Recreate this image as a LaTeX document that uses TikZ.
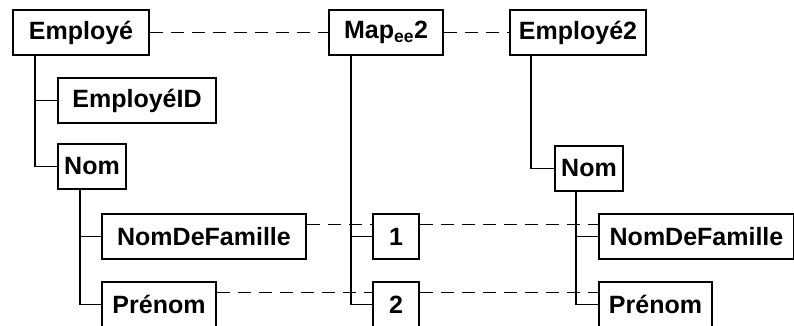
\documentclass[tikz,border=0pt]{standalone}
\usepackage{fontspec}
\setmainfont{Liberation Sans}
\tikzset{
  elem/.style={draw, line width=2pt, minimum height=45pt, inner sep=0pt,
    anchor=north west, font=\fontsize{25}{29}\selectfont\bfseries},
  tree/.style={line width=1.8pt},
  link/.style={line width=1.8pt, dash pattern=on 13pt off 8pt},
}
\begin{document}
\begin{tikzpicture}[x=1pt, y=-1pt]
  \useasboundingbox (0,0) rectangle (794,326);

  % ---- left: source schema ----
  \node[elem, minimum width=136pt] (emp) at (12,9) {Employé};
  \node[elem, minimum width=158pt] (empid) at (57,77) {EmployéID};
  \node[elem, minimum width=68pt] (nom) at (57,143) {Nom};
  \node[elem, minimum width=204pt] (ndf) at (101,213) {NomDeFamille};
  \node[elem, minimum width=114pt] (pre) at (101,281) {Prénom};
  \draw[tree] ([xshift=23pt]emp.south west) |- (empid.west);
  \draw[tree] ([xshift=23pt]emp.south west) |- (nom.west);
  \draw[tree] ([xshift=23pt]nom.south west) |- (ndf.west);
  \draw[tree] ([xshift=23pt]nom.south west) |- (pre.west);

  % ---- middle: map ----
  \node[elem, minimum width=114pt] (map) at (328,9) {Map\textsubscript{ee}2};
  \node[elem, minimum width=46pt] (one) at (372,213) {1};
  \node[elem, minimum width=46pt] (two) at (372,281) {2};
  \draw[tree] ([xshift=23pt]map.south west) |- (one.west);
  \draw[tree] ([xshift=23pt]map.south west) |- (two.west);

  % ---- right: target schema ----
  \node[elem, minimum width=136pt] (emp2) at (509,9) {Employé2};
  \node[elem, minimum width=68pt] (nom2) at (554,145) {Nom};
  \node[elem, minimum width=195pt] (ndf2) at (598,213) {NomDeFamille};
  \node[elem, minimum width=113pt] (pre2) at (598,281) {Prénom};
  \draw[tree] ([xshift=22pt]emp2.south west) |- (nom2.west);
  \draw[tree] ([xshift=22pt]nom2.south west) |- (ndf2.west);
  \draw[tree] ([xshift=22pt]nom2.south west) |- (pre2.west);

  % ---- dashed links ----
  \draw[link] (emp.east) -- (map.west);
  \draw[link] (map.east) -- (emp2.west);
  \draw[link] ([yshift=12pt]ndf.east) -- ([yshift=12pt]one.west);
  \draw[link] ([yshift=12pt]one.east) -- ([yshift=12pt]ndf2.west);
  \draw[link] ([yshift=12pt]pre.east) -- ([yshift=12pt]two.west);
  \draw[link] ([yshift=12pt]two.east) -- ([yshift=12pt]pre2.west);
\end{tikzpicture}
\end{document}
